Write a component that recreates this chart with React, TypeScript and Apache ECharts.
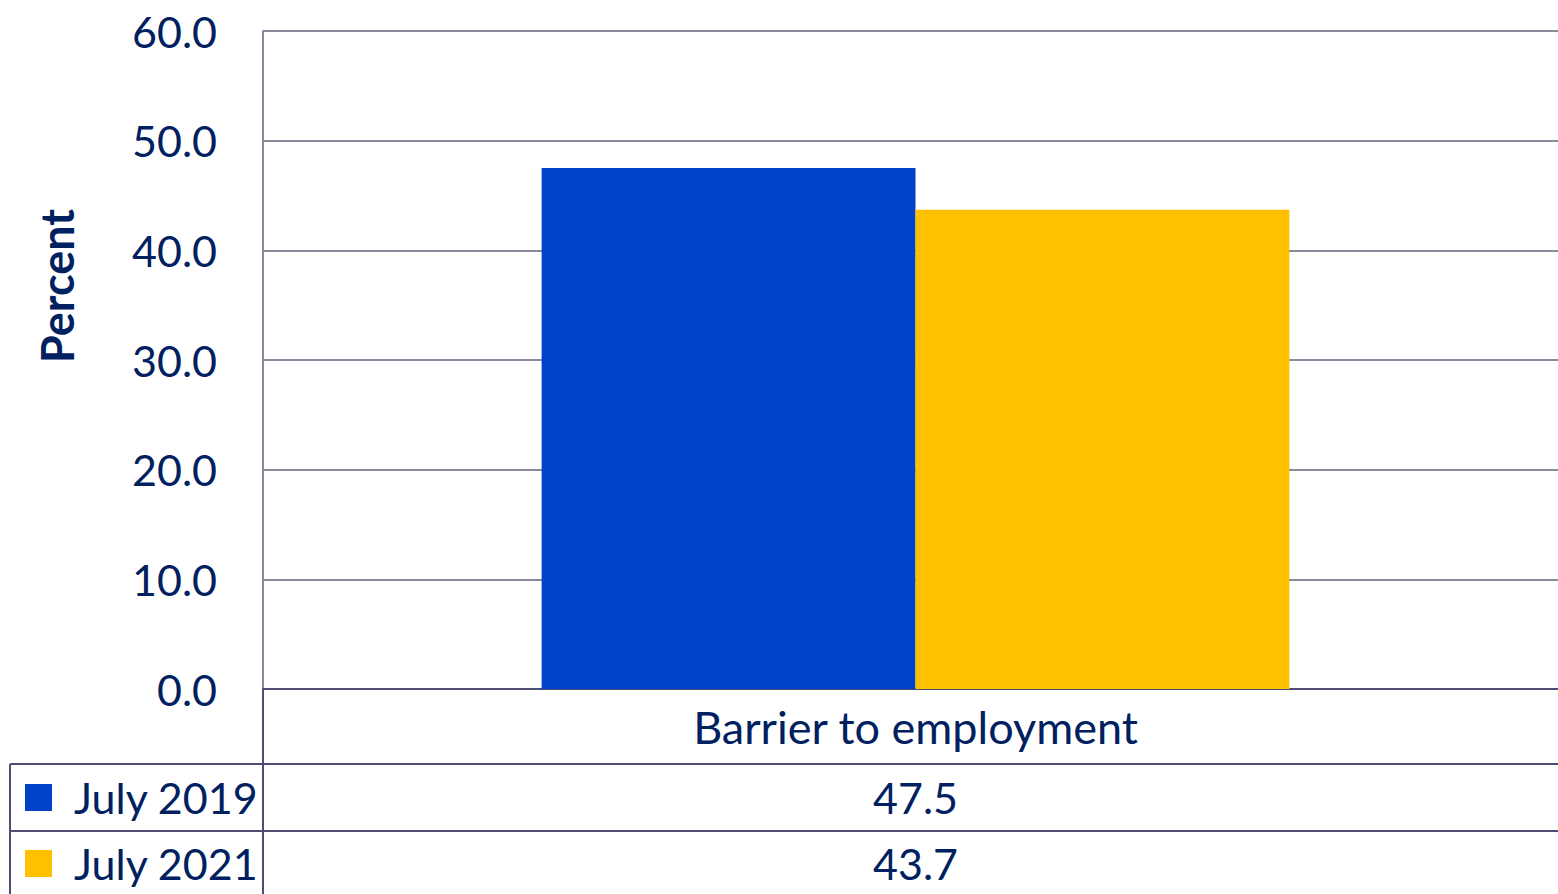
import React, { useEffect, useRef } from "react";
import * as echarts from "echarts";

const categories = ["Barrier to employment"];
const seriesNames = ["July 2019", "July 2021"];
const july2019 = [47.5];
const july2021 = [43.7];
const colors = ["#0043C8", "#FFC000"];
const yTicks = { min: 0, max: 60, interval: 10 };
const yTitle = "Percent";

const TEXT = "#002060";
const FONT = "Lato";
const TABLE_LINE = "#4d4d75";

export default function App() {
  const ref = useRef<HTMLDivElement>(null);
  useEffect(() => {
    document.body.style.margin = "0";
    const chart = echarts.init(ref.current!, null, { renderer: "svg" });
    const W = 1568;
    const gridLeft = 263;
    const gridTop = 31;
    const axisY = 689;
    const row1 = 764;
    const row2 = 831;
    const rowBottom = 894;
    const option: any = {
      animation: false,
      grid: { left: gridLeft, top: gridTop, right: 0, bottom: 894 - axisY, containLabel: false },
      xAxis: {
        type: "category",
        data: categories,
        axisLine: { show: true, lineStyle: { color: TABLE_LINE, width: 2 } },
        axisTick: { show: false },
        axisLabel: { color: TEXT, fontFamily: FONT, fontSize: 45, margin: 15 },
      },
      yAxis: {
        type: "value",
        min: yTicks.min,
        max: yTicks.max,
        interval: yTicks.interval,
        axisLine: { show: true, lineStyle: { color: "#8a8a9c", width: 2 } },
        axisTick: { show: false },
        axisLabel: {
          color: TEXT,
          fontFamily: FONT,
          fontSize: 43,
          margin: 46,
          formatter: (v: number) => v.toFixed(1),
        },
        splitLine: { show: true, lineStyle: { color: "#8a8a9c", width: 2 } },
      },
      series: [
        {
          name: seriesNames[0],
          type: "bar",
          data: july2019,
          itemStyle: { color: colors[0] },
          barGap: "0%",
          barCategoryGap: "42.7%",
        },
        {
          name: seriesNames[1],
          type: "bar",
          data: july2021,
          itemStyle: { color: colors[1] },
          barGap: "0%",
          barCategoryGap: "42.7%",
        },
      ],
    };
    chart.setOption(option);

    const values = [july2019, july2021];
    const lineStyle = { stroke: TABLE_LINE, lineWidth: 2 };
    const graphics: any[] = [
      { type: "line", shape: { x1: 10, y1: row1, x2: W, y2: row1 }, style: lineStyle },
      { type: "line", shape: { x1: 10, y1: row2, x2: W, y2: row2 }, style: lineStyle },
      { type: "line", shape: { x1: 10, y1: row1, x2: 10, y2: rowBottom }, style: lineStyle },
      { type: "line", shape: { x1: gridLeft, y1: axisY, x2: gridLeft, y2: rowBottom }, style: lineStyle },
      {
        type: "text",
        x: 57,
        y: 286,
        rotation: Math.PI / 2,
        style: {
          text: yTitle,
          fill: TEXT,
          font: `bold 45px ${FONT}`,
          align: "center",
          textAlign: "center",
          verticalAlign: "middle",
          textVerticalAlign: "middle",
        },
      },
    ];
    const rowCenters = [(row1 + row2) / 2 + 0, (row2 + rowBottom) / 2 + 1];
    seriesNames.forEach((name, i) => {
      const cy = rowCenters[i];
      graphics.push({
        type: "rect",
        shape: { x: 25, y: cy - 13.5, width: 27, height: 27 },
        style: { fill: colors[i] },
      });
      graphics.push({
        type: "text",
        x: 74,
        y: cy,
        style: { text: name, fill: TEXT, font: `43px ${FONT}`, textVerticalAlign: "middle", verticalAlign: "middle" },
      });
      categories.forEach((c, j) => {
        const px = chart.convertToPixel({ xAxisIndex: 0 }, c) as number;
        graphics.push({
          type: "text",
          x: px,
          y: cy,
          style: {
            text: values[i][j].toFixed(1),
            fill: TEXT,
            font: `43px ${FONT}`,
            align: "center",
            textAlign: "center",
            verticalAlign: "middle",
            textVerticalAlign: "middle",
          },
        });
      });
    });
    chart.setOption({ graphic: graphics });
    return () => chart.dispose();
  }, []);
  return (
    <div style={{ width: 1558, height: 894, overflow: "hidden" }}>
      <div ref={ref} style={{ width: 1568, height: 894 }} />
    </div>
  );
}
